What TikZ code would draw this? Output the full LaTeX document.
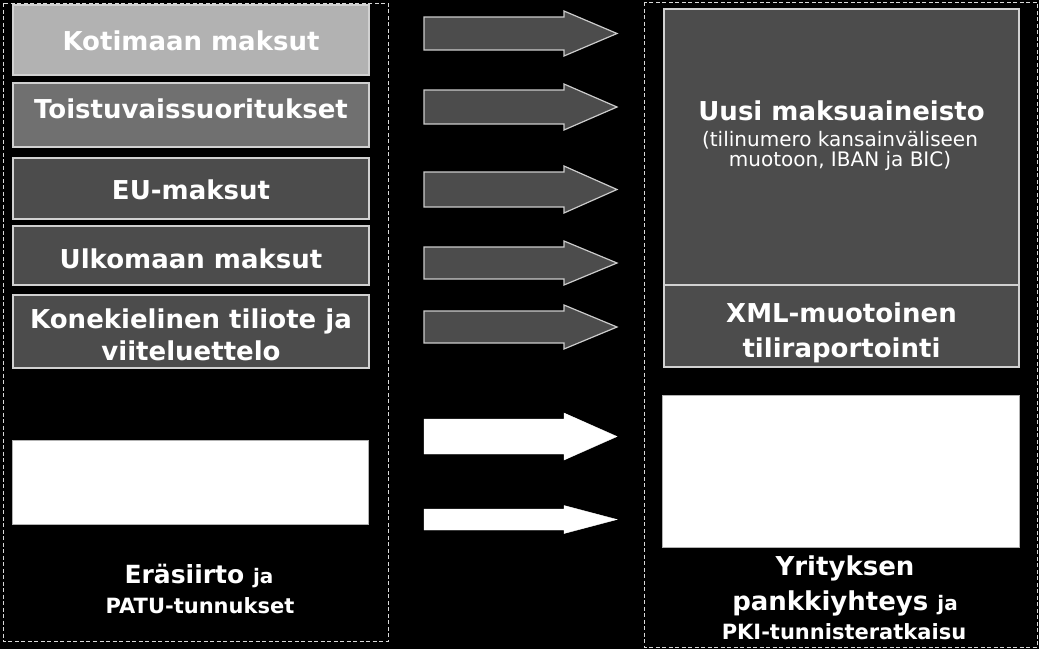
\documentclass[tikz,border=0pt]{standalone}
\usepackage{fontspec}
\setmainfont{DejaVu Sans}
\begin{document}
\begin{tikzpicture}[x=1pt,y=-1pt,
  frame/.style={draw=white!85!black,dash pattern=on 4pt off 2.5pt,line width=1pt},
  box/.style={draw=white!82!black,line width=1.2pt,inner sep=0pt},
  wbox/.style={fill=white,draw=white!70!black,line width=0.6pt,inner sep=0pt},
  garrow/.style={fill=black!70,draw=white!80!black,line width=1.2pt},
  warrow/.style={fill=white,draw=white},
  big/.style={text=white,anchor=base,inner sep=0pt,font=\bfseries\fontsize{26}{30}\selectfont},
  mid/.style={text=white,anchor=base,inner sep=0pt,font=\bfseries\fontsize{21}{26}\selectfont},
  small/.style={text=white,anchor=base,inner sep=0pt,font=\fontsize{20}{24}\selectfont}
]
\useasboundingbox (0,0) rectangle (1039,649);
\fill[black] (0,0) rectangle (1039,649);
\newcommand{\blockarrow}[4]{%
  \draw[#4] (424,#1-#2) -- (564,#1-#2) -- (564,#1-#3) -- (617,#1) -- (564,#1+#3) -- (564,#1+#2) -- (424,#1+#2) -- cycle;}
% frames
\draw[frame] (3,3) rectangle (388,641);
\draw[frame] (644,2) rectangle (1037,647);
% left boxes
\node[box,fill=black!30,minimum width=356pt,minimum height=70pt] (kot) at (191,40) {};
\node[big] (kott) at (191,50) {Kotimaan maksut};
\node[box,fill=black!56,minimum width=356pt,minimum height=64pt] (toi) at (191,115) {};
\node[big] (toit) at (191,118) {Toistuvaissuoritukset};
\node[box,fill=black!70,minimum width=356pt,minimum height=61pt] (eu) at (191,188.5) {};
\node[big] (eut) at (191,199) {EU-maksut};
\node[box,fill=black!70,minimum width=356pt,minimum height=59pt] (ulk) at (191,255.5) {};
\node[big] (ulkt) at (191,268) {Ulkomaan maksut};
\node[box,fill=black!70,minimum width=356pt,minimum height=73pt] (kon) at (191,331.5) {};
\node[big] (kont1) at (191,328) {Konekielinen tiliote ja};
\node[big] (kont2) at (191,360) {viiteluettelo};
\node[wbox,minimum width=356pt,minimum height=84pt] (lw) at (190,482) {};
\node[big,font=\bfseries\fontsize{25}{30}\selectfont] (era) at (199,583) {Eräsiirto {\fontsize{20}{24}\selectfont ja}};
\node[mid] (patu) at (200,613) {PATU-tunnukset};
% arrows
\blockarrow{33.5}{16.5}{22.5}{garrow}
\blockarrow{107}{17}{23}{garrow}
\blockarrow{189.5}{17.5}{23.5}{garrow}
\blockarrow{263}{16}{22}{garrow}
\blockarrow{327}{16}{22}{garrow}
\blockarrow{436.5}{17.5}{23.5}{warrow}
\blockarrow{519.5}{10.5}{14}{warrow}
% right boxes
\node[box,fill=black!70,minimum width=355pt,minimum height=276pt] (uusi) at (841.5,147) {};
\node[big] (uusit) at (841.5,120) {Uusi maksuaineisto};
\node[small] (uusi2) at (840,146) {(tilinumero kansainväliseen};
\node[small] (uusi3) at (840,166) {muotoon, IBAN ja BIC)};
\node[box,fill=black!70,minimum width=355pt,minimum height=82pt] (xml) at (841.5,326) {};
\node[big] (xml1) at (841.5,322) {XML-muotoinen};
\node[big] (xml2) at (841.5,357) {tiliraportointi};
\node[wbox,minimum width=357pt,minimum height=152pt] (rw) at (840.5,471) {};
\node[big] (yr1) at (845,575) {Yrityksen};
\node[big] (yr2) at (845,610) {pankkiyhteys {\fontsize{20}{24}\selectfont ja}};
\node[mid] (yr3) at (844,639) {PKI-tunnisteratkaisu};
\end{tikzpicture}
\end{document}
